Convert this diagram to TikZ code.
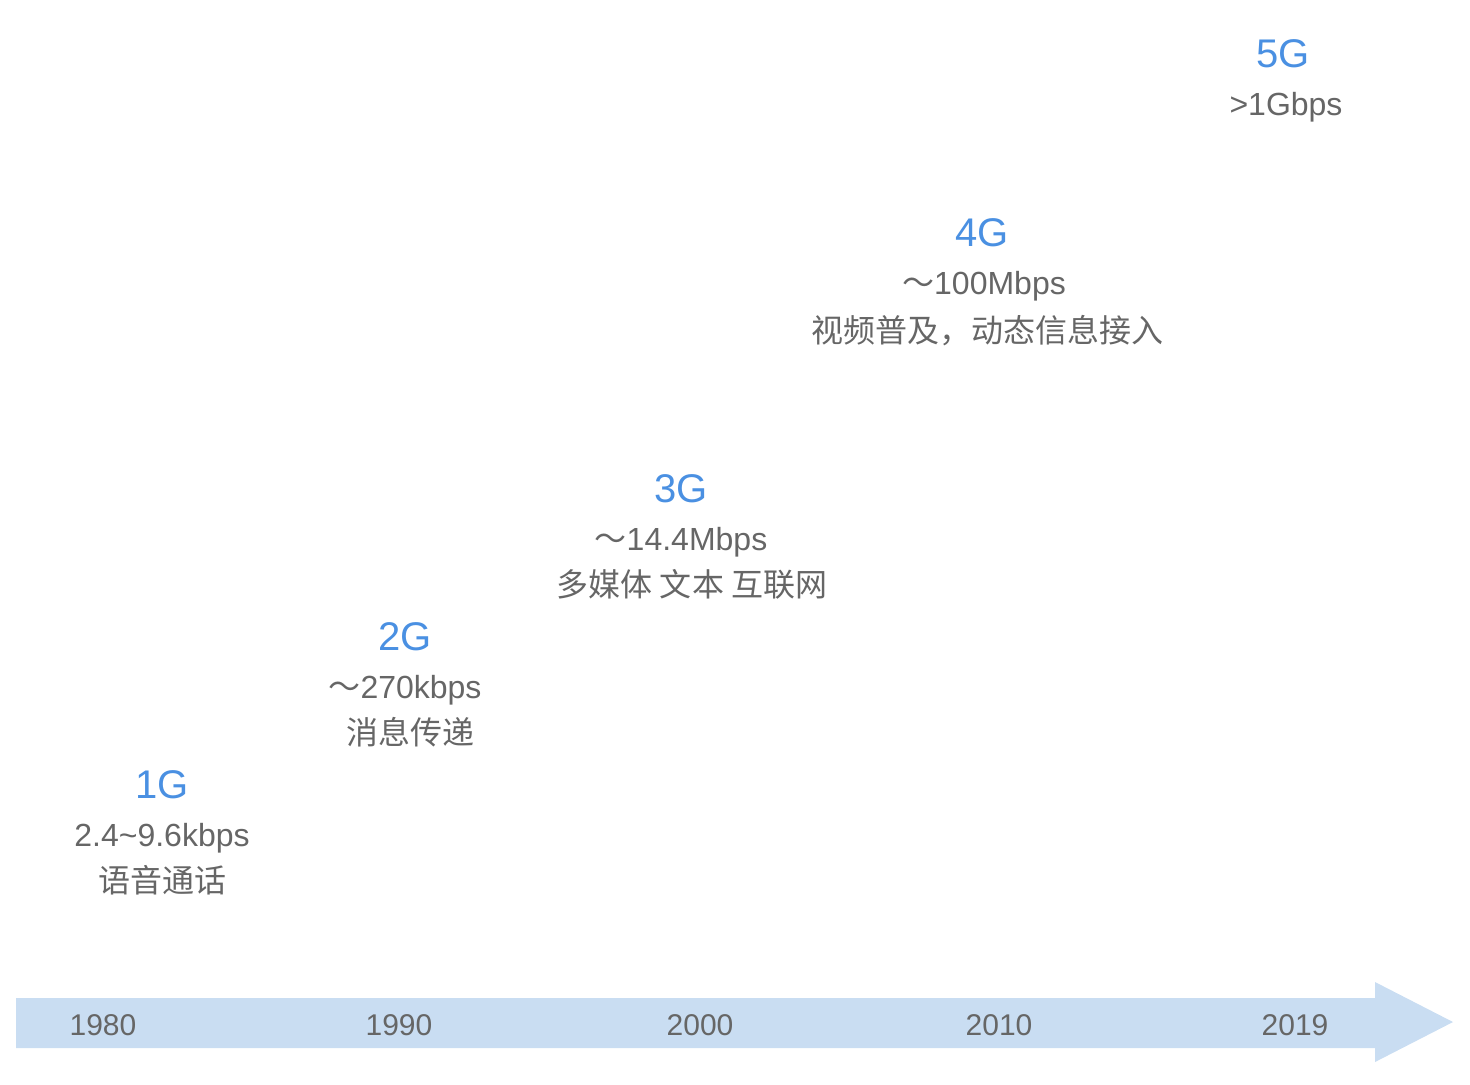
\documentclass[tikz,border=0pt]{standalone}
\usepackage{fontspec}
\setmainfont{Liberation Sans}
\newfontfamily\cjk{Noto Sans CJK SC}
\usetikzlibrary{calc}
\definecolor{genblue}{HTML}{4A90E2}
\definecolor{txtgray}{HTML}{666666}
\definecolor{barblue}{HTML}{C9DDF2}
\newcommand{\wave}{{\cjk ～}}
\tikzset{
  gen/.style={anchor=base,text=genblue,inner sep=0pt,
    font=\fontsize{20pt}{24pt}\selectfont},
  rate/.style={anchor=base,text=txtgray,inner sep=0pt,
    font=\fontsize{16pt}{19pt}\selectfont},
  usecase/.style={rate,font=\fontsize{16pt}{19pt}\selectfont\cjk},
  yearlbl/.style={anchor=base,text=txtgray,inner sep=0pt,
    font=\fontsize{15pt}{18pt}\selectfont},
  timebar/.style={fill=barblue,draw=none},
}

\begin{document}
\begin{tikzpicture}[x=0.5pt,y=-0.5pt]
  \useasboundingbox (0,0) rectangle (1470,1084);
  % time axis
  \fill[timebar] (16,998) -- (1375,998) -- (1375,982) -- (1453,1022)
    -- (1375,1062) -- (1375,1048) -- (16,1048) -- cycle;
  \node[yearlbl] (y1980) at (103,1035) {1980};
  \node[yearlbl] (y1990) at (399,1035) {1990};
  \node[yearlbl] (y2000) at (700,1035) {2000};
  \node[yearlbl] (y2010) at (999,1035) {2010};
  \node[yearlbl] (y2019) at (1295,1035) {2019};
  % generations
  \node[gen] (g1) at (162,798) {1G};
  \node[rate] (r1) at ($(g1.base)+(0,48)$) {2.4\string~9.6kbps};
  \node[usecase] (u1) at ($(r1.base)+(0,46)$) {语音通话};
  \node[gen] (g2) at (405,650) {2G};
  \node[rate] (r2) at ($(g2.base)+(0,48)$) {\wave270kbps};
  \node[usecase] (u2) at ($(r2.base)+(5,46)$) {消息传递};
  \node[gen] (g3) at (681,502) {3G};
  \node[rate] (r3) at ($(g3.base)+(0,48)$) {\wave14.4Mbps};
  \node[usecase] (u3) at ($(r3.base)+(11,46)$) {多媒体 文本 互联网};
  \node[gen] (g4) at (982,246) {4G};
  \node[rate] (r4) at ($(g4.base)+(2,48)$) {\wave100Mbps};
  \node[usecase] (u4) at ($(r4.base)+(3,48)$) {视频普及，动态信息接入};
  \node[gen] (g5) at (1283,67) {5G};
  \node[rate] (r5) at ($(g5.base)+(3,48)$) {>1Gbps};
\end{tikzpicture}
\end{document}
